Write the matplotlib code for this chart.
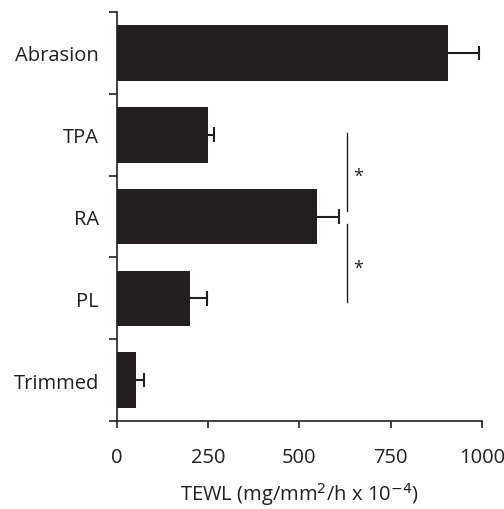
import matplotlib
matplotlib.use("Agg")
import matplotlib.pyplot as plt
import numpy as np

categories = ["Abrasion", "TPA", "RA", "PL", "Trimmed"]
values = [907, 249, 548, 200, 52]
errors = [85, 17, 60, 47, 22]
xticks = [0, 250, 500, 750, 1000]

plt.rcParams['font.family'] = ['Open Sans', 'DejaVu Sans']
color = "#231f20"
fs = 14.5

fig = plt.figure(figsize=(5.04, 5.10), dpi=100)
ax = fig.add_axes([0.232, 0.1725, 0.724, 0.802])

pos = np.arange(len(categories))[::-1]
vals = np.array(values)
errs = np.array(errors)
ax.barh(pos, vals, height=0.68, color=color, zorder=2)
ax.hlines(pos, vals, vals + errs, color=color, lw=1.5, zorder=1)
ax.vlines(vals + errs, pos - 0.09, pos + 0.09, color=color, lw=1.5, zorder=1)

ax.set_ylim(-0.5, 4.5)
ax.set_xlim(0, 1000)
ax.set_yticks(np.arange(-0.5, 5, 1))
ax.set_yticklabels([])
ax.set_yticks(pos, minor=True)
ax.set_yticklabels(categories, minor=True, fontsize=fs, color=color)
ax.tick_params(axis='y', which='minor', length=0, pad=13)
ax.tick_params(axis='y', which='major', length=6, width=1.2, color=color)
ax.set_xticks(xticks)
ax.set_xticklabels([str(t) for t in xticks], fontsize=fs, color=color)
ax.tick_params(axis='x', length=5, width=1.2, color=color, pad=14)

for s in ['top', 'right']:
    ax.spines[s].set_visible(False)
for s in ['left', 'bottom']:
    ax.spines[s].set_linewidth(1.2)
    ax.spines[s].set_color(color)

ax.set_xlabel(r"TEWL (mg/mm$^2$/h x 10$^{-4}$)", fontsize=fs, color=color, labelpad=9)

# significance markers
ax.plot([630, 630], [2.07, 3.02], color=color, lw=1.0, clip_on=False)
ax.plot([630, 630], [0.96, 1.91], color=color, lw=1.0, clip_on=False)
ax.text(660, 2.5, "*", fontsize=13, ha='center', va='center', color=color)
ax.text(660, 1.37, "*", fontsize=13, ha='center', va='center', color=color)

fig.savefig("out.png", dpi=100)
